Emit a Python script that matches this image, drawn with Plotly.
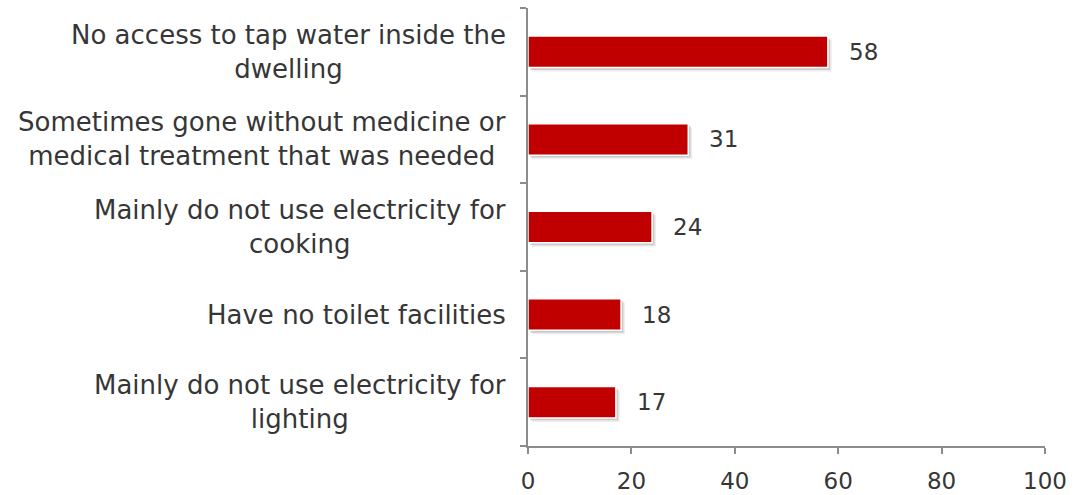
import plotly.graph_objects as go

categories = [
    "No access to tap water inside the<br>dwelling",
    "Sometimes gone without medicine or<br>medical treatment that was needed",
    "Mainly do not use electricity for<br>cooking",
    "Have no toilet facilities",
    "Mainly do not use electricity for<br>lighting",
]
values = [58, 31, 24, 18, 17]
x_ticks = [0, 20, 40, 60, 80, 100]

FONT = "DejaVu Sans"
TEXT_COLOR = "#363636"
BAR_COLOR = "#C00000"
AXIS_COLOR = "#8c8c8c"

# plot bottom-to-top so the first category sits at the top
cats = categories[::-1]
vals = values[::-1]
pos = list(range(len(cats)))
BAR_W = 0.36

fig = go.Figure()

# soft drop shadow: two faint layers shifted right and down
for shift, alpha in [(0.75, 0.07), (0.45, 0.14)]:
    fig.add_trace(go.Bar(
        y=pos, x=vals, orientation="h",
        width=BAR_W, base=shift, offset=-BAR_W / 2 - shift * 0.06,
        marker=dict(color=f"rgba(0,0,0,{alpha})", line=dict(width=0)),
        hoverinfo="skip", showlegend=False,
    ))

fig.add_trace(go.Bar(
    y=pos, x=vals, orientation="h",
    width=BAR_W,
    marker=dict(color=BAR_COLOR, line=dict(color="white", width=1.5)),
    showlegend=False,
))

# value labels to the right of each bar
for i, v in enumerate(vals):
    fig.add_annotation(
        x=v, y=i, xref="x", yref="y",
        text=str(v), showarrow=False,
        xanchor="left", xshift=19,
        font=dict(family=FONT, size=23, color=TEXT_COLOR),
    )

# category labels: centred lines, block right-aligned against the axis
for i, c in enumerate(cats):
    fig.add_annotation(
        x=0, y=i, xref="paper", yref="y",
        text=c, showarrow=False,
        xanchor="right", align="center", xshift=-20,
        font=dict(family=FONT, size=26, color=TEXT_COLOR),
    )

fig.update_layout(
    width=1077, height=495,
    margin=dict(l=528, r=32, t=8, b=49),
    paper_bgcolor="white", plot_bgcolor="white",
    barmode="overlay",
    font=dict(family=FONT, size=23, color=TEXT_COLOR),
)

fig.update_xaxes(
    range=[0, 100], tickvals=x_ticks,
    showline=True, linecolor=AXIS_COLOR, linewidth=1.5,
    ticks="outside", ticklen=6, tickcolor=AXIS_COLOR, tickwidth=1.5,
    ticklabelstandoff=8, automargin=False,
    showgrid=False, zeroline=False,
    tickfont=dict(family=FONT, size=23, color=TEXT_COLOR),
)

fig.update_yaxes(
    type="category",
    tickvals=pos,
    range=[-0.5, len(cats) - 0.5],
    showline=True, linecolor=AXIS_COLOR, linewidth=1.5,
    ticks="outside", ticklen=6, tickcolor=AXIS_COLOR, tickwidth=1.5,
    tickson="boundaries", automargin=False,
    showticklabels=False, showgrid=False, zeroline=False,
)

fig.write_html("out.html")
